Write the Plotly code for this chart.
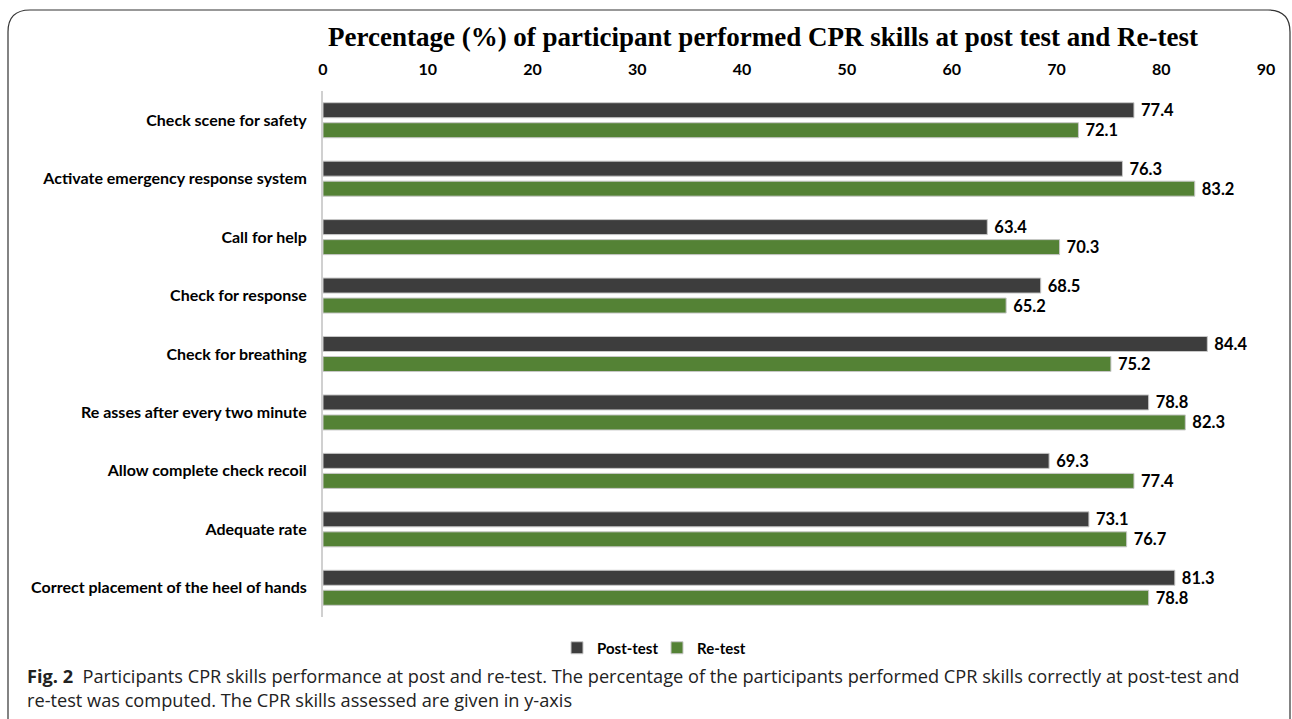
import plotly.graph_objects as go

categories = [
    "Check scene for safety",
    "Activate emergency response system",
    "Call for help",
    "Check for response",
    "Check for breathing",
    "Re asses after every two minute",
    "Allow complete check recoil",
    "Adequate rate",
    "Correct placement of the heel of hands",
]
post_test = [77.4, 76.3, 63.4, 68.5, 84.4, 78.8, 69.3, 73.1, 81.3]
re_test = [72.1, 83.2, 70.3, 65.2, 75.2, 82.3, 77.4, 76.7, 78.8]
x_ticks = [0, 10, 20, 30, 40, 50, 60, 70, 80, 90]

W, H = 1292, 719
ML, MR, MT, MB = 323, 26, 91, 102
PW = W - ML - MR
PH = H - MT - MB


def px_x(p):
    return (p - ML) / PW


def px_y(p):
    return 1 - (p - MT) / PH


lab_font = dict(family="Lato, Open Sans, sans-serif", size=16, color="#000000", weight="bold")
val_font = dict(family="Lato, Open Sans, sans-serif", size=16.5, color="#000000", weight="bold")

fig = go.Figure()
fig.add_trace(go.Bar(
    y=categories, x=post_test, name="Post-test", orientation="h",
    marker=dict(color="#3d3d3d", line=dict(color="#c8c8c8", width=1)),
    text=["\u00a0" + f"{v:.1f}" for v in post_test], textposition="outside",
    textfont=val_font, cliponaxis=False, constraintext="none",
))
fig.add_trace(go.Bar(
    y=categories, x=re_test, name="Re-test", orientation="h",
    marker=dict(color="#548235", line=dict(color="#c8c8c8", width=1)),
    text=["\u00a0" + f"{v:.1f}" for v in re_test], textposition="outside",
    textfont=val_font, cliponaxis=False, constraintext="none",
))

# rounded frame
x0, x1, y0 = px_x(8), px_x(1290), px_y(10)
yb = px_y(760)
rx = 22 / PW
ry = 22 / PH
frame = (f"M {x0},{yb} L {x0},{y0 - ry} Q {x0},{y0} {x0 + rx},{y0} "
         f"L {x1 - rx},{y0} Q {x1},{y0} {x1},{y0 - ry} L {x1},{yb}")

fig.update_layout(
    width=W, height=H,
    margin=dict(l=ML, r=MR, t=MT, b=MB),
    paper_bgcolor="white", plot_bgcolor="white",
    barmode="group", bargap=0.315, bargroupgap=0.25,
    title=dict(
        text="Percentage (%) of participant performed CPR skills at post test and Re-test",
        font=dict(family="Liberation Serif, Times New Roman, serif", size=27, color="#000000", weight="bold"),
        x=763 / W, xanchor="center", y=1 - 37 / H, yanchor="middle",
    ),
    xaxis=dict(
        range=[0, 90], tickvals=x_ticks, side="top", showgrid=False, zeroline=False,
        showline=False, ticks="", tickfont=lab_font, ticklabelstandoff=12,
    ),
    yaxis=dict(
        autorange="reversed", showgrid=False, zeroline=False, ticks="",
        showline=True, linecolor="#d0d0d0", linewidth=2,
        tickfont=lab_font, ticklabelstandoff=11,
    ),
    legend=dict(
        orientation="h", x=px_x(557), xanchor="left", y=px_y(648), yanchor="middle",
        font=dict(family="Lato, Open Sans, sans-serif", size=15, color="#000000", weight="bold"),
        itemwidth=30, entrywidth=55, traceorder="normal",
    ),
    shapes=[dict(type="path", path=frame, xref="paper", yref="paper",
                 line=dict(color="#333333", width=1.2), layer="below")],
    annotations=[
        dict(
            text="<b>Fig. 2</b>  Participants CPR skills performance at post and re-test. The percentage of the participants performed CPR skills correctly at post-test and<br>re-test was computed. The CPR skills assessed are given in y-axis",
            xref="paper", yref="paper", x=px_x(25), y=px_y(662), xanchor="left", yanchor="top",
            align="left", showarrow=False,
            font=dict(family="Open Sans, sans-serif", size=18.2, color="#222222"),
        )
    ],
)

fig.write_html("out.html", config={"displayModeBar": False},
               post_script="document.body.style.margin='0';")
